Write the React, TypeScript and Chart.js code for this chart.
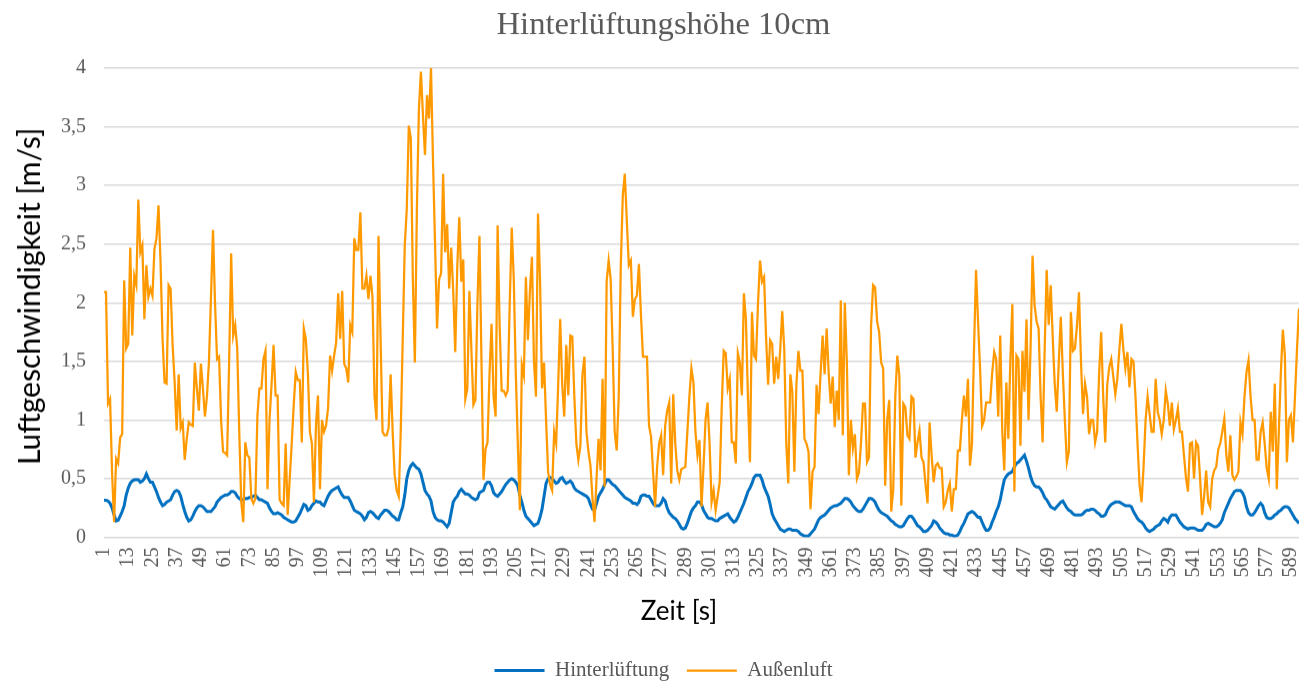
import React, { useEffect, useRef } from 'react';
import { Chart, registerables } from 'chart.js';

Chart.register(...registerables);

// Series: Hinterlüftung (blue), values in m/s
const hinterlueftung: number[] = [
  0.315, 0.315, 0.31, 0.29, 0.25, 0.19, 0.14, 0.145, 0.18, 0.22, 0.27, 0.36, 0.42, 0.46, 0.48, 0.49, 0.49, 0.49, 0.47, 0.48,
  0.5, 0.54, 0.5, 0.47, 0.47, 0.43, 0.39, 0.34, 0.3, 0.27, 0.28, 0.3, 0.31, 0.32, 0.36, 0.39, 0.4, 0.39, 0.35, 0.28,
  0.22, 0.17, 0.14, 0.15, 0.18, 0.22, 0.25, 0.27, 0.27, 0.26, 0.24, 0.22,
  0.22, 0.22, 0.24, 0.26, 0.3, 0.32, 0.34, 0.35, 0.36, 0.36, 0.37, 0.39, 0.39, 0.38, 0.35, 0.33, 0.32, 0.32, 0.33, 0.33,
  0.34, 0.34, 0.35, 0.36, 0.34, 0.32, 0.32, 0.31, 0.3, 0.29, 0.25, 0.22, 0.2, 0.2, 0.21, 0.2, 0.19, 0.17, 0.16, 0.15,
  0.14, 0.13, 0.13, 0.14, 0.17, 0.2, 0.24, 0.28, 0.27, 0.23, 0.24, 0.27, 0.29, 0.31,
  0.3, 0.3, 0.28, 0.27, 0.31, 0.35, 0.38, 0.4, 0.41, 0.42, 0.43, 0.39, 0.36, 0.34, 0.34, 0.34, 0.31, 0.27, 0.23, 0.22,
  0.21, 0.2, 0.18, 0.15, 0.17, 0.21, 0.22, 0.21, 0.19, 0.17, 0.16, 0.19, 0.21, 0.23, 0.23, 0.22, 0.2, 0.18, 0.17, 0.15,
  0.15, 0.21, 0.26, 0.36, 0.5, 0.57, 0.61, 0.63, 0.61, 0.59, 0.58, 0.54, 0.47, 0.4, 0.37,
  0.35, 0.31, 0.22, 0.17, 0.15, 0.14, 0.14, 0.13, 0.11, 0.09, 0.12, 0.21, 0.3, 0.33, 0.35, 0.39, 0.41, 0.39, 0.37, 0.37,
  0.36, 0.34, 0.33, 0.32, 0.33, 0.38, 0.39, 0.4, 0.45, 0.47, 0.47, 0.44, 0.38, 0.36, 0.35, 0.37, 0.39, 0.42, 0.45, 0.47,
  0.49, 0.5, 0.49, 0.47, 0.44, 0.36, 0.3, 0.23, 0.18, 0.16, 0.14, 0.12, 0.1, 0.11,
  0.12, 0.17, 0.24, 0.35, 0.46, 0.5, 0.51, 0.5, 0.48, 0.46, 0.47, 0.5, 0.51, 0.48, 0.46, 0.47, 0.48, 0.46, 0.42, 0.4,
  0.39, 0.38, 0.37, 0.36, 0.35, 0.33, 0.28, 0.24, 0.23, 0.29, 0.35, 0.38, 0.41, 0.45, 0.49, 0.49, 0.47, 0.45, 0.44, 0.42,
  0.4, 0.38, 0.36, 0.34, 0.33, 0.32, 0.31, 0.29, 0.29, 0.28, 0.3, 0.35, 0.36, 0.36, 0.35,
  0.35, 0.32, 0.29, 0.27, 0.27, 0.27, 0.29, 0.33, 0.31, 0.25, 0.21, 0.19, 0.17, 0.16, 0.14, 0.11, 0.08, 0.07, 0.08, 0.12,
  0.17, 0.22, 0.25, 0.27, 0.3, 0.3, 0.28, 0.23, 0.2, 0.17, 0.16, 0.16, 0.15, 0.14, 0.14, 0.16, 0.17, 0.18, 0.19, 0.2,
  0.17, 0.15, 0.13, 0.14, 0.17, 0.21, 0.25, 0.29, 0.34, 0.39, 0.42, 0.46, 0.51, 0.53,
  0.53, 0.53, 0.49, 0.43, 0.39, 0.35, 0.28, 0.2, 0.16, 0.13, 0.1, 0.07, 0.06, 0.05, 0.06, 0.07, 0.07, 0.06, 0.06, 0.06,
  0.05, 0.03, 0.02, 0.01, 0.01, 0.01, 0.03, 0.05, 0.07, 0.11, 0.15, 0.17, 0.18, 0.19, 0.21, 0.23, 0.25, 0.26, 0.27, 0.27,
  0.28, 0.29, 0.31, 0.33, 0.33, 0.32, 0.3, 0.27, 0.25, 0.23, 0.22, 0.22, 0.24, 0.27, 0.3,
  0.33, 0.33, 0.32, 0.3, 0.26, 0.23, 0.21, 0.2, 0.19, 0.18, 0.16, 0.14, 0.13, 0.11, 0.1, 0.09, 0.09, 0.1, 0.13, 0.16,
  0.18, 0.18, 0.16, 0.13, 0.1, 0.09, 0.07, 0.05, 0.05, 0.06, 0.08, 0.1, 0.14, 0.13, 0.11, 0.08, 0.06, 0.04, 0.03, 0.03,
  0.02, 0.02, 0.01, 0.01, 0.02, 0.05, 0.09, 0.12, 0.16, 0.2, 0.21, 0.22, 0.21, 0.19,
  0.17, 0.17, 0.13, 0.09, 0.06, 0.06, 0.08, 0.13, 0.17, 0.22, 0.26, 0.32, 0.41, 0.49, 0.52, 0.54, 0.55, 0.56, 0.6, 0.63,
  0.64, 0.66, 0.68, 0.7, 0.65, 0.59, 0.52, 0.47, 0.44, 0.43, 0.43, 0.41, 0.38, 0.34, 0.32, 0.29, 0.26, 0.25, 0.24, 0.26,
  0.28, 0.3, 0.31, 0.28, 0.25, 0.23, 0.22, 0.2, 0.19, 0.19, 0.19, 0.19, 0.2, 0.22, 0.23,
  0.23, 0.24, 0.24, 0.23, 0.21, 0.2, 0.18, 0.18, 0.19, 0.23, 0.26, 0.28, 0.29, 0.3, 0.3, 0.3, 0.29, 0.28, 0.27, 0.27,
  0.27, 0.26, 0.22, 0.19, 0.16, 0.14, 0.13, 0.11, 0.08, 0.06, 0.05, 0.06, 0.07, 0.09, 0.1, 0.11, 0.14, 0.16, 0.15, 0.13,
  0.17, 0.19, 0.19, 0.19, 0.16, 0.13, 0.11, 0.09, 0.08, 0.07, 0.08, 0.08, 0.08, 0.07,
  0.06, 0.06, 0.06, 0.08, 0.11, 0.12, 0.11, 0.1, 0.09, 0.09, 0.1, 0.12, 0.15, 0.21, 0.25, 0.29, 0.33, 0.36, 0.39, 0.4,
  0.4, 0.4, 0.38, 0.34, 0.26, 0.21, 0.19, 0.19, 0.21, 0.24, 0.27, 0.29, 0.27, 0.21, 0.17, 0.16, 0.16, 0.17, 0.19, 0.2,
  0.22, 0.23, 0.25, 0.26, 0.26, 0.25, 0.22, 0.19, 0.16, 0.14, 0.12,
];

// Series: Außenluft (orange), values in m/s
const aussenluft: number[] = [
  2.09, 2.09, 1.14, 1.18, 0.55, 0.13, 0.67, 0.63, 0.85, 0.88, 2.19, 1.61, 1.65, 2.47, 1.72, 2.23, 2.15, 2.88, 2.43, 2.49,
  1.86, 2.32, 2.05, 2.12, 2.06, 2.46, 2.55, 2.83, 2.35, 1.69, 1.32, 1.31, 2.15, 2.12, 1.64, 1.32, 0.91, 1.39, 0.93, 0.98,
  0.66, 0.84, 0.98, 0.96, 0.95, 1.49, 1.27, 1.08, 1.48, 1.27, 1.03, 1.2,
  1.5, 2.05, 2.62, 2.0, 1.52, 1.54, 1.0, 0.73, 0.72, 0.7, 1.5, 2.42, 1.72, 1.81, 1.61, 0.9, 0.3, 0.13, 0.81, 0.7,
  0.68, 0.33, 0.29, 0.33, 1.04, 1.27, 1.27, 1.52, 1.59, 0.41, 1.0, 1.3, 1.64, 1.21, 1.21, 0.32, 0.29, 0.27, 0.8, 0.19,
  0.5, 0.8, 1.13, 1.41, 1.34, 1.34, 0.81, 1.78, 1.69, 1.4, 0.9, 0.8, 0.3, 0.95,
  1.21, 0.41, 1.0, 0.9, 0.95, 1.1, 1.55, 1.42, 1.55, 1.66, 2.08, 1.69, 2.1, 1.48, 1.44, 1.32, 1.81, 1.75, 2.55, 2.45,
  2.45, 2.77, 2.12, 2.12, 2.23, 2.03, 2.23, 2.05, 1.21, 1.0, 2.57, 1.7, 0.9, 0.87, 0.87, 0.93, 1.39, 0.9, 0.53, 0.4,
  0.35, 0.9, 1.7, 2.49, 2.8, 3.51, 3.4, 2.2, 1.49, 2.8, 3.65, 3.97, 3.6, 3.26, 3.77,
  3.57, 4.0, 3.2, 2.5, 1.78, 2.2, 2.25, 3.1, 2.43, 2.67, 2.12, 2.47, 2.1, 1.58, 2.3, 2.73, 2.18, 2.37, 1.18, 1.27,
  2.1, 1.6, 1.13, 1.17, 2.0, 2.57, 1.5, 0.49, 0.75, 0.81, 1.4, 1.82, 1.2, 1.03, 2.66, 1.8, 1.25, 1.25, 1.21, 1.25,
  2.0, 2.64, 2.2, 1.4, 0.8, 0.23, 1.47, 1.38, 2.22, 1.68, 2.1, 2.39, 1.5, 1.2,
  2.76, 2.2, 1.27, 1.49, 1.0, 0.56, 0.45, 0.4, 0.9, 0.8, 1.3, 1.86, 1.3, 1.03, 1.64, 1.21, 1.72, 1.71, 1.2, 0.8,
  0.66, 0.78, 1.38, 1.54, 0.9, 0.73, 0.61, 0.33, 0.13, 0.5, 0.84, 0.57, 1.35, 0.43, 2.18, 2.36, 2.2, 1.6, 0.9, 0.74,
  1.2, 2.3, 2.91, 3.1, 2.7, 2.32, 2.36, 1.88, 2.03, 2.06, 2.33, 1.9, 1.54, 1.54, 1.54,
  0.95, 0.86, 0.56, 0.26, 0.6, 0.8, 0.87, 0.53, 0.95, 1.08, 1.15, 0.46, 1.22, 0.8, 0.57, 0.49, 0.58, 0.59, 0.6, 0.9,
  1.2, 1.44, 1.32, 0.9, 0.7, 0.83, 0.26, 0.6, 1.0, 1.15, 0.8, 0.3, 0.4, 0.23, 0.35, 0.47, 1.1, 1.59, 1.57, 1.27,
  1.35, 0.81, 0.81, 0.63, 1.57, 1.49, 1.21, 2.08, 1.86, 1.2, 0.64, 1.92, 1.55, 1.52,
  2.0, 2.36, 2.18, 2.22, 1.7, 1.3, 1.68, 1.65, 1.31, 1.54, 1.35, 1.6, 1.93, 1.6, 0.8, 0.46, 1.39, 1.24, 0.56, 1.3,
  1.59, 1.42, 1.42, 0.84, 0.8, 0.73, 0.24, 0.56, 0.6, 1.3, 1.05, 1.4, 1.72, 1.39, 1.78, 1.4, 1.14, 1.37, 0.94, 1.25,
  1.0, 2.02, 0.87, 2.0, 1.5, 0.53, 1.0, 0.76, 0.88, 0.5, 0.55, 0.8, 1.14, 1.14, 0.64,
  0.68, 1.8, 2.15, 2.13, 1.84, 1.75, 1.49, 1.44, 0.44, 1.0, 1.17, 0.22, 0.41, 1.2, 1.55, 1.38, 0.27, 1.14, 1.11, 0.87,
  0.84, 1.2, 1.18, 0.68, 0.81, 0.91, 0.68, 0.64, 0.45, 0.29, 0.98, 0.7, 0.47, 0.61, 0.63, 0.59, 0.59, 0.26, 0.3, 0.4,
  0.46, 0.22, 0.41, 0.41, 0.74, 0.74, 1.0, 1.21, 1.03, 1.35, 0.61, 0.8, 1.6, 2.28,
  1.84, 1.44, 0.95, 1.0, 1.15, 1.15, 1.15, 1.4, 1.58, 1.52, 1.03, 1.72, 0.9, 0.57, 1.32, 0.84, 1.5, 1.99, 0.39, 1.55,
  1.52, 0.78, 1.59, 1.24, 1.86, 1.0, 1.6, 2.4, 1.98, 1.84, 1.78, 1.2, 0.81, 1.6, 2.28, 1.81, 2.15, 1.7, 1.3, 1.07,
  1.5, 1.88, 1.4, 1.0, 0.64, 0.73, 1.92, 1.59, 1.61, 1.8, 2.09, 1.5, 1.05, 1.31, 1.2,
  0.88, 1.0, 1.0, 0.81, 0.9, 1.4, 1.75, 1.2, 0.81, 1.3, 1.45, 1.52, 1.37, 1.22, 1.35, 1.6, 1.82, 1.6, 1.44, 1.58,
  1.28, 1.52, 1.5, 1.2, 0.8, 0.45, 0.3, 0.6, 1.0, 1.2, 1.05, 0.9, 0.9, 1.35, 1.07, 1.0, 0.88, 1.0, 1.25, 1.14,
  0.95, 1.15, 0.92, 1.0, 1.1, 0.9, 0.9, 0.7, 0.51, 0.39, 0.8, 0.81, 0.5, 0.81,
  0.78, 0.5, 0.19, 0.35, 0.57, 0.3, 0.26, 0.5, 0.57, 0.6, 0.75, 0.8, 0.9, 1.01, 0.7, 0.56, 0.87, 0.53, 0.49, 0.52,
  0.56, 0.98, 0.88, 1.2, 1.41, 1.51, 1.2, 1.0, 1.0, 0.66, 0.66, 0.9, 0.98, 0.8, 0.59, 0.5, 1.07, 0.73, 1.31, 0.41,
  0.9, 1.4, 1.77, 1.55, 0.64, 1.0, 1.04, 0.81, 1.2, 1.6, 1.95,
];

// Categories: time in seconds (1 .. n)
const zeit: string[] = aussenluft.map((_, i) => String(i + 1));
const tickEvery = 12;
const yTicks: number[] = [0, 0.5, 1, 1.5, 2, 2.5, 3, 3.5, 4];

const chartTitle = 'Hinterlüftungshöhe 10cm';
const yTitle = 'Luftgeschwindigkeit [m/s]';
const xTitle = 'Zeit [s]';

// the Excel chart is wider than the visible picture (it is cut on the right)
const W = 1327;
const H = 690.5;
const VIEW_W = 1299;
const VIEW_H = 683;

const axisTitles = {
  id: 'axisTitles',
  afterDraw(chart: any) {
    const { ctx } = chart;
    ctx.save();
    ctx.fillStyle = '#000000';
    ctx.textAlign = 'center';
    ctx.textBaseline = 'middle';
    ctx.font = '30px Lato';
    ctx.translate(30, 296);
    ctx.rotate(-Math.PI / 2);
    ctx.fillText(yTitle, 0, 0);
    ctx.restore();

    ctx.save();
    ctx.fillStyle = '#000000';
    ctx.textAlign = 'center';
    ctx.textBaseline = 'middle';
    ctx.font = '26px Lato';
    ctx.fillText(xTitle, 679, 611);
    ctx.restore();
  },
};

export default function App() {
  const ref = useRef<HTMLCanvasElement>(null);

  useEffect(() => {
    if (!ref.current) return;
    const chart = new Chart(ref.current, {
      type: 'line',
      data: {
        labels: zeit,
        datasets: [
          {
            label: 'Hinterlüftung',
            data: hinterlueftung,
            borderColor: '#0070C0',
            backgroundColor: '#0070C0',
            borderWidth: 3,
            pointRadius: 0,
            tension: 0,
            order: 1,
          },
          {
            label: 'Außenluft',
            data: aussenluft,
            borderColor: '#FF9900',
            backgroundColor: '#FF9900',
            borderWidth: 2.25,
            pointRadius: 0,
            tension: 0,
            order: 0,
          },
        ],
      },
      plugins: [axisTitles],
      options: {
        responsive: false,
        animation: false,
        devicePixelRatio: 1,
        layout: { padding: 0 },
        plugins: {
          title: {
            display: true,
            text: chartTitle,
            color: '#595959',
            font: { family: 'Liberation Serif', size: 32.6, weight: 'normal' },
            padding: { top: 6, bottom: 22.9 },
          },
          legend: {
            position: 'bottom',
            labels: {
              usePointStyle: true,
              pointStyle: 'line',
              pointStyleWidth: 50,
              color: '#595959',
              font: { family: 'Liberation Serif', size: 21 },
              padding: 17.5,
              sort: (a: any, b: any) => a.datasetIndex - b.datasetIndex,
            },
          },
          tooltip: { enabled: false },
        },
        scales: {
          x: {
            type: 'category',
            offset: false,
            grid: { display: false, drawTicks: false },
            border: { display: false },
            ticks: {
              autoSkip: false,
              maxRotation: 90,
              minRotation: 90,
              padding: 10,
              color: '#595959',
              font: { family: 'Liberation Serif', size: 20 },
              callback: (_v: any, i: number) => (i % tickEvery === 0 ? zeit[i] : ''),
            },
            afterFit: (s: any) => {
              s.height = 105;
              s.paddingLeft = 0;
              s.paddingRight = 0;
            },
          },
          y: {
            min: 0,
            max: 4,
            afterBuildTicks: (s: any) => {
              s.ticks = yTicks.map((v) => ({ value: v }));
            },
            grid: { color: '#D9D9D9', lineWidth: 1.5, drawTicks: false },
            border: { display: false },
            ticks: {
              padding: 18,
              color: '#595959',
              font: { family: 'Liberation Serif', size: 20 },
              callback: (v: any) => String(v).replace('.', ','),
            },
            afterFit: (s: any) => {
              s.width = 104;
            },
          },
          // empty strip on the right: the part of the chart that lies outside the picture
          yRight: {
            type: 'linear',
            position: 'right',
            min: 0,
            max: 4,
            grid: { display: false, drawTicks: false },
            border: { display: false },
            ticks: { display: false },
            afterFit: (s: any) => {
              s.width = W - VIEW_W;
            },
          },
        },
      },
    });
    return () => chart.destroy();
  }, []);

  return (
    <div
      style={{
        position: 'fixed',
        left: 0,
        top: 0,
        width: VIEW_W,
        height: VIEW_H,
        overflow: 'hidden',
        background: '#ffffff',
      }}
    >
      <canvas ref={ref} width={W} height={H} style={{ display: 'block', width: W, height: H }} />
    </div>
  );
}
